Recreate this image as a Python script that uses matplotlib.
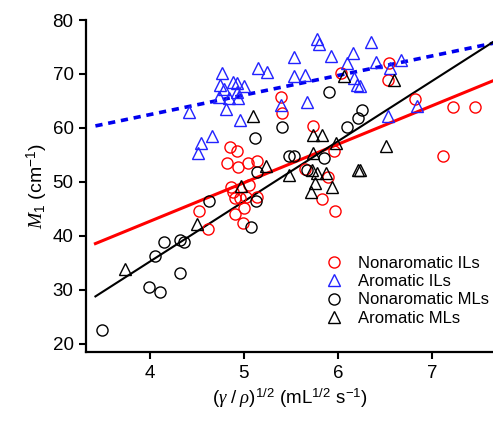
import matplotlib.pyplot as plt
import numpy as np

plt.rcParams['font.family'] = ['Liberation Sans', 'DejaVu Sans']
plt.rcParams['mathtext.fontset'] = 'custom'
plt.rcParams['mathtext.rm'] = 'Liberation Sans'
plt.rcParams['mathtext.it'] = 'Liberation Serif:italic'
plt.rcParams['mathtext.sf'] = 'Liberation Sans'

# Nonaromatic ILs (red circles)
nil_x = [4.52, 4.62, 4.85, 4.93, 4.82, 4.94, 5.04, 5.14, 4.86, 5.05, 4.90, 4.96,
         5.02, 5.00, 4.90, 4.99, 5.14, 4.88, 5.39, 5.41, 5.74, 6.03, 6.54, 6.53,
         6.82, 7.22, 7.46, 7.12, 5.96, 5.65, 5.89, 5.83, 5.97]
nil_y = [44.7, 41.2, 56.5, 55.8, 53.5, 52.8, 53.5, 53.9, 49.1, 49.4, 47.0, 47.0,
         47.2, 45.1, 44.0, 42.4, 47.2, 48.2, 65.8, 62.7, 60.4, 70.1, 72.1, 68.9,
         65.3, 63.8, 63.8, 54.8, 55.8, 52.4, 51.0, 46.8, 44.6]

# Aromatic ILs (blue triangles)
ail_x = [4.42, 4.51, 4.54, 4.66, 4.77, 4.75, 4.79, 4.88, 4.93, 5.00, 4.73, 4.84,
         4.94, 4.93, 4.81, 4.96, 5.15, 5.25, 5.39, 5.53, 5.53, 5.65, 5.67, 5.78,
         5.80, 5.93, 6.10, 6.16, 6.17, 6.20, 6.23, 6.35, 6.40, 6.55, 6.67, 6.53,
         6.84]
ail_y = [62.9, 55.3, 57.2, 58.5, 70.1, 68.0, 67.3, 68.6, 68.3, 67.8, 65.8, 65.5,
         65.5, 66.7, 63.6, 61.5, 71.1, 70.4, 64.3, 73.2, 69.6, 69.8, 64.9, 76.4,
         75.6, 73.4, 72.0, 73.9, 69.2, 68.0, 67.7, 75.9, 72.3, 71.2, 72.6, 62.2,
         64.1]

# Nonaromatic MLs (black circles)
nml_x = [3.49, 3.99, 4.11, 4.05, 4.15, 4.32, 4.36, 4.32, 4.63, 5.13, 5.08, 5.14,
         5.12, 5.41, 5.48, 5.53, 5.67, 5.85, 5.91, 6.10, 6.21, 6.26]
nml_y = [22.5, 30.6, 29.7, 36.3, 38.8, 39.3, 38.8, 33.1, 46.4, 46.4, 41.6, 51.9,
         58.2, 60.1, 54.8, 54.8, 52.2, 54.4, 66.7, 60.1, 61.8, 63.4]

# Aromatic MLs (black triangles)
aml_x = [3.73, 4.50, 4.97, 5.24, 5.10, 5.48, 6.06, 6.60, 5.74, 5.83, 5.98, 6.51,
         5.74, 5.72, 5.78, 5.76, 5.71, 5.94, 5.87, 6.21, 6.24]
aml_y = [33.8, 42.3, 49.3, 53.0, 62.2, 51.3, 69.6, 68.9, 58.7, 58.7, 57.2, 56.7,
         55.3, 52.2, 51.6, 49.8, 48.2, 49.0, 51.6, 52.2, 52.3]

# linear fits: slope, intercept
fit_ail = [3.62, 48.0]
fit_nil = [7.13, 14.2]
fit_ml = [11.14, -9.3]
fit_x = np.array([3.42, 7.8])

fig = plt.figure(figsize=(4.93, 4.24), dpi=100)
ax = fig.add_axes([0.1745, 0.1698, 0.8255, 0.783])

ax.plot(fit_x, np.polyval(fit_ail, fit_x), color='#0000ee', lw=2.6,
        linestyle=(0, (2.0, 1.6)))
ax.plot(fit_x, np.polyval(fit_nil, fit_x), color='#ff0000', lw=2.2)
ax.plot(fit_x, np.polyval(fit_ml, fit_x), color='black', lw=1.5)

ax.plot(nil_x, nil_y, 'o', ms=8, mfc='none', mec='#ff0000', mew=1.0,
        label='Nonaromatic ILs')
ax.plot(ail_x, ail_y, '^', ms=9, mfc='none', mec='#2222ff', mew=1.0,
        label='Aromatic ILs')
ax.plot(nml_x, nml_y, 'o', ms=8, mfc='none', mec='black', mew=1.0,
        label='Nonaromatic MLs')
ax.plot(aml_x, aml_y, '^', ms=9, mfc='none', mec='black', mew=1.0,
        label='Aromatic MLs')

ax.set_xlim(3.32, 7.65)
ax.set_ylim(18.5, 80)
ax.set_xticks([4, 5, 6, 7])
ax.set_yticks([20, 30, 40, 50, 60, 70, 80])

for s in ['top', 'right']:
    ax.spines[s].set_visible(False)
for s in ['left', 'bottom']:
    ax.spines[s].set_linewidth(1.6)
ax.tick_params(direction='out', length=5, width=1.5, labelsize=13.5, pad=4)

ax.set_xlabel(r'$(\gamma\ /\ \rho)^{1/2}$ (mL$^{1/2}$ s$^{-1}$)', fontsize=13.5,
              labelpad=4)
ax.set_ylabel(r'$M_1$ (cm$^{-1}$)', fontsize=14, labelpad=2)

ax.legend(loc='upper left', bbox_to_anchor=(0.59, 0.29), frameon=False,
          fontsize=12, handlelength=1.0, handletextpad=0.9,
          labelspacing=0.2, borderpad=0, borderaxespad=0)

fig.savefig('out.png', dpi=100)
